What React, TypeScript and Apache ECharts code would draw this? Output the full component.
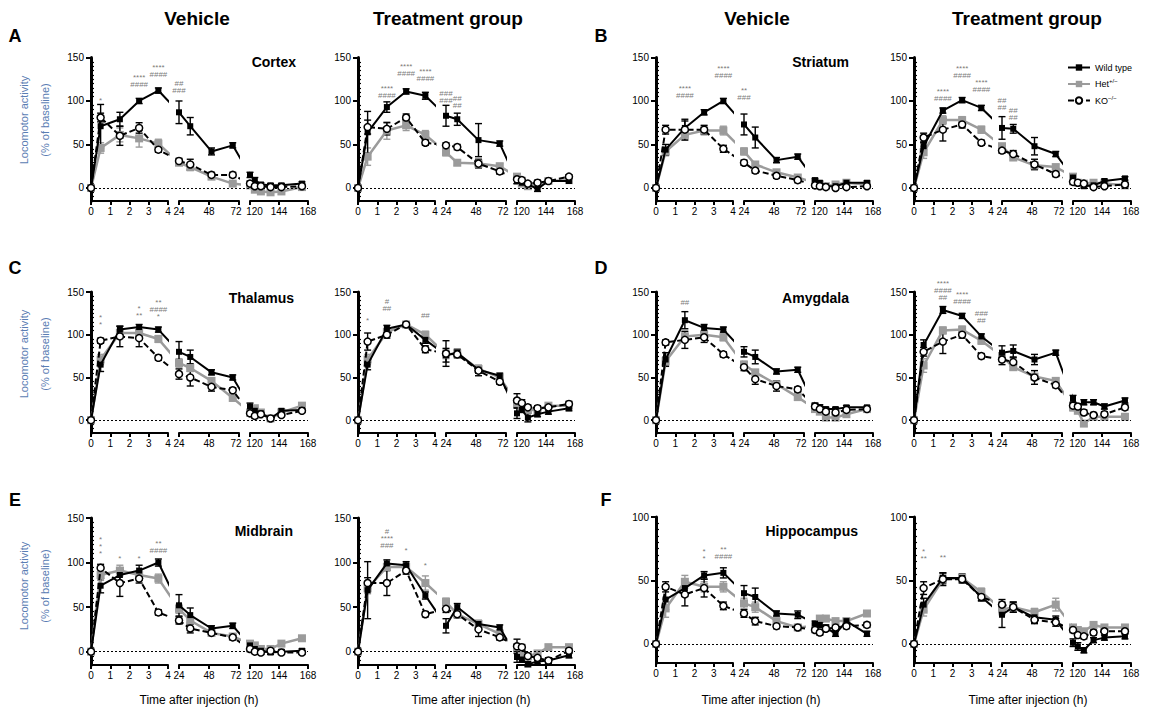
import React, { useEffect, useRef } from "react";
import * as echarts from "echarts";

// ---------- time points (h) and axis ticks ----------
const T_SEG1 = [0, 0.5, 1.5, 2.5, 3.5];
const T_SEG2 = [24, 33, 50, 67];
const T_SEG3 = [120, 124, 129, 137, 146, 163];
const X_TICKS_1 = [0, 1, 2, 3, 4];
const X_TICKS_2 = [24, 48, 72];
const X_TICKS_3 = [120, 144, 168];
const Y_TICKS_150 = [0, 50, 100, 150];
const Y_TICKS_100 = [0, 50, 100];
const Y_MIN = -15;

const NAME_WT = "Wild type";
const NAME_HET = "Het+/−";
const NAME_KO = "KO−/−";

// ---------- data (mean, SEM) ----------
const A1_WT = [0, 71, 79, 100, 112, 87, 71, 42, 49, 15, 9, 4, 3, 3, 5];
const A1_HET = [0, 46, 61, 57, 51, 29, 24, 13, 5, 3, -2, -4, -5, -4, 1];
const A1_KO = [0, 81, 60, 69, 44, 31, 27, 15, 15, 5, 2, 2, 1, 1, 2];
const A1_WT_SEM = [0, 25, 8, 3, 3, 13, 10, 4, 3, 3, 3, 2, 2, 2, 2];
const A1_HET_SEM = [0, 6, 8, 10, 5, 3, 4, 3, 2, 3, 3, 3, 3, 3, 3];
const A1_KO_SEM = [0, 5, 11, 6, 3, 3, 6, 3, 3, 3, 3, 2, 2, 2, 2];

const A2_WT = [0, 64, 93, 111, 106, 83, 79, 55, 51, 8, 6, 4, -1, 8, 8];
const A2_HET = [0, 36, 66, 72, 61, 41, 29, 28, 25, 13, 5, 2, 4, 8, 9];
const A2_KO = [0, 70, 68, 81, 52, 49, 47, 28, 19, 10, 9, 5, 6, 8, 13];
const A2_WT_SEM = [0, 24, 6, 3, 4, 12, 7, 19, 3, 3, 3, 2, 3, 2, 2];
const A2_HET_SEM = [0, 10, 10, 6, 5, 4, 3, 3, 3, 3, 3, 2, 2, 2, 2];
const A2_KO_SEM = [0, 8, 7, 4, 3, 3, 3, 5, 3, 5, 3, 2, 3, 2, 2];

const B1_WT = [0, 44, 69, 87, 100, 73, 58, 32, 36, 9, 6, 2, 2, 6, 6];
const B1_HET = [0, 42, 61, 66, 66, 42, 27, 18, 12, 6, 3, 2, 4, 6, 4];
const B1_KO = [0, 67, 67, 67, 45, 29, 20, 14, 9, 3, 2, 1, 0, 1, 2];
const B1_WT_SEM = [0, 6, 8, 3, 3, 12, 12, 3, 3, 2, 2, 2, 2, 2, 2];
const B1_HET_SEM = [0, 5, 5, 5, 5, 4, 3, 3, 3, 2, 2, 2, 2, 2, 2];
const B1_KO_SEM = [0, 5, 12, 5, 4, 3, 3, 3, 3, 2, 2, 2, 2, 2, 2];

const B2_WT = [0, 48, 89, 101, 92, 69, 68, 48, 39, 12, 6, 2, 3, 8, 11];
const B2_HET = [0, 41, 78, 78, 67, 48, 35, 26, 24, 13, 6, 5, 6, 5, 3];
const B2_KO = [0, 58, 67, 73, 52, 43, 39, 27, 16, 7, 6, 5, 1, 2, 4];
const B2_WT_SEM = [0, 4, 3, 3, 3, 13, 5, 10, 3, 3, 2, 2, 2, 2, 2];
const B2_HET_SEM = [0, 7, 5, 4, 4, 3, 3, 3, 3, 3, 2, 2, 2, 2, 2];
const B2_KO_SEM = [0, 5, 13, 4, 3, 3, 4, 6, 3, 3, 2, 2, 2, 2, 2];

const C1_WT = [0, 65, 106, 109, 106, 80, 74, 56, 50, 16, 11, 8, 2, 11, 12];
const C1_HET = [0, 71, 102, 102, 95, 67, 61, 46, 26, 9, 14, 9, 2, 9, 17];
const C1_KO = [0, 93, 98, 96, 73, 54, 50, 39, 35, 8, 5, 7, 2, 6, 11];
const C1_WT_SEM = [0, 8, 4, 3, 3, 12, 8, 3, 3, 4, 3, 2, 2, 2, 2];
const C1_HET_SEM = [0, 6, 4, 4, 4, 5, 4, 3, 3, 3, 2, 2, 2, 2, 2];
const C1_KO_SEM = [0, 3, 12, 10, 3, 6, 10, 5, 3, 3, 3, 2, 2, 2, 2];

const C2_WT = [0, 65, 107, 112, 94, 76, 79, 59, 52, 8, 12, 3, 7, 10, 14];
const C2_HET = [0, 71, 103, 112, 100, 77, 78, 60, 50, 20, 16, 12, 12, 17, 17];
const C2_KO = [0, 92, 100, 112, 83, 78, 77, 58, 45, 23, 20, 15, 14, 15, 19];
const C2_WT_SEM = [0, 6, 4, 3, 4, 8, 4, 4, 3, 6, 3, 5, 3, 3, 3];
const C2_HET_SEM = [0, 6, 4, 3, 4, 5, 4, 4, 3, 4, 3, 3, 3, 3, 3];
const C2_KO_SEM = [0, 10, 4, 3, 4, 15, 4, 6, 3, 8, 4, 3, 3, 3, 3];

const D1_WT = [0, 71, 117, 108, 106, 80, 74, 57, 59, 17, 15, 13, 13, 15, 15];
const D1_HET = [0, 69, 98, 100, 97, 65, 56, 42, 27, 13, 10, 3, 3, 7, 13];
const D1_KO = [0, 91, 94, 97, 77, 62, 48, 40, 36, 16, 13, 10, 9, 12, 13];
const D1_WT_SEM = [0, 8, 10, 4, 3, 6, 8, 3, 3, 3, 3, 2, 2, 2, 2];
const D1_HET_SEM = [0, 5, 4, 4, 4, 4, 3, 3, 3, 2, 2, 2, 2, 2, 2];
const D1_KO_SEM = [0, 3, 10, 6, 3, 4, 6, 6, 3, 3, 3, 2, 2, 2, 2];

const D2_WT = [0, 88, 129, 122, 98, 79, 81, 71, 79, 25, 16, 21, 21, 16, 23];
const D2_HET = [0, 64, 105, 106, 93, 75, 62, 51, 46, 15, 11, -4, 4, 4, 4];
const D2_KO = [0, 80, 92, 100, 75, 71, 68, 50, 41, 17, 16, 9, 6, 7, 15];
const D2_WT_SEM = [0, 6, 4, 3, 3, 8, 7, 6, 3, 4, 3, 3, 3, 3, 3];
const D2_HET_SEM = [0, 8, 4, 4, 4, 4, 3, 3, 3, 4, 3, 3, 3, 3, 3];
const D2_KO_SEM = [0, 5, 14, 4, 3, 6, 5, 8, 3, 3, 3, 3, 3, 3, 3];

const E1_WT = [0, 74, 86, 91, 100, 52, 41, 26, 29, 7, 3, 1, -1, 0, 1];
const E1_HET = [0, 86, 91, 86, 82, 48, 35, 21, 17, 9, 7, 3, 3, 9, 15];
const E1_KO = [0, 94, 77, 82, 44, 35, 26, 21, 16, 3, 0, -1, 1, -1, -1];
const E1_WT_SEM = [0, 8, 8, 6, 4, 12, 8, 3, 3, 3, 3, 2, 2, 2, 2];
const E1_HET_SEM = [0, 6, 6, 5, 5, 5, 4, 3, 3, 3, 2, 2, 2, 2, 2];
const E1_KO_SEM = [0, 4, 15, 5, 3, 4, 5, 3, 3, 3, 2, 2, 2, 2, 2];

const E2_WT = [0, 69, 99, 97, 63, 29, 50, 31, 27, -6, -9, -14, -11, -10, -4];
const E2_HET = [0, 71, 95, 95, 77, 56, 42, 31, 20, 5, -1, -5, -2, 5, 5];
const E2_KO = [0, 77, 77, 91, 42, 48, 42, 25, 16, 6, 5, -5, -7, -10, 1];
const E2_WT_SEM = [0, 32, 4, 4, 4, 8, 4, 4, 3, 6, 3, 3, 3, 3, 3];
const E2_HET_SEM = [0, 6, 4, 4, 8, 4, 3, 3, 3, 3, 3, 3, 3, 3, 3];
const E2_KO_SEM = [0, 6, 14, 4, 3, 4, 4, 8, 3, 8, 3, 3, 3, 3, 3];

const F1_WT = [0, 35, 44, 54, 56, 40, 37, 24, 23, 16, 15, 13, 8, 18, 8];
const F1_HET = [0, 28, 49, 45, 45, 32, 29, 18, 13, 14, 20, 20, 18, 18, 24];
const F1_KO = [0, 45, 39, 44, 30, 24, 18, 14, 13, 11, 9, 12, 13, 14, 15];
const F1_WT_SEM = [0, 8, 4, 3, 4, 6, 7, 2, 3, 2, 2, 2, 2, 2, 2];
const F1_HET_SEM = [0, 7, 5, 4, 4, 4, 4, 2, 2, 2, 2, 2, 2, 2, 2];
const F1_KO_SEM = [0, 4, 9, 7, 3, 3, 3, 2, 2, 2, 2, 2, 2, 2, 2];

const F2_WT = [0, 31, 52, 52, 37, 23, 29, 21, 19, 1, -2, -5, 3, 5, 6];
const F2_HET = [0, 27, 51, 52, 41, 27, 29, 25, 31, 13, 11, 10, 15, 13, 13];
const F2_KO = [0, 44, 51, 51, 37, 31, 29, 19, 17, 11, 7, 6, 9, 10, 10];
const F2_WT_SEM = [0, 5, 4, 3, 3, 10, 4, 4, 3, 3, 3, 2, 2, 2, 2];
const F2_HET_SEM = [0, 5, 4, 3, 3, 4, 3, 3, 5, 2, 2, 2, 2, 2, 2];
const F2_KO_SEM = [0, 5, 5, 3, 3, 4, 4, 3, 3, 2, 2, 2, 2, 2, 2];

// significance annotations: [time, y, text]
const A1_ANN = [[0.5, 100, "*"], [2.5, 123, "****\n####"], [3.5, 134, "****\n####"], [24, 116, "##\n###"]];
const A2_ANN = [[1.5, 110, "****\n####"], [2.5, 136, "****\n####"], [3.5, 130, "****\n####"], [24, 105, "###\n###"], [33, 99, "##\n##"]];
const B1_ANN = [[1.5, 110, "****\n####"], [3.5, 133, "****\n####"], [24, 108, "**\n###"]];
const B2_ANN = [[1.5, 107, "****\n####"], [2.5, 133, "****\n####"], [3.5, 117, "****\n####"], [24, 96, "##\n##"], [33, 85, "##\n##"]];
const C1_ANN = [[0.5, 116, "*\n*"], [2.5, 127, "*\n**"], [3.5, 130, "**\n####\n*"]];
const C2_ANN = [[0.5, 117, "*"], [1.5, 135, "#\n##"], [3.5, 122, "##"]];
const D1_ANN = [[1.5, 138, "##"]];
const D2_ANN = [[1.5, 152, "****\n####\n##"], [2.5, 143, "****\n####"], [3.5, 121, "###\n##"]];
const E1_ANN = [[0.5, 118, "*\n*\n*"], [1.5, 104, "*"], [2.5, 104, "*"], [3.5, 118, "**\n####"]];
const E2_ANN = [[1.5, 127, "#\n****\n###"], [2.5, 114, "*"], [3.5, 97, "*"]];
const F1_ANN = [[2.5, 70, "*\n*"], [3.5, 72, "**\n####"]];
const F2_ANN = [[0.5, 70, "*\n**"], [1.5, 68, "**"]];

// ---------- texts ----------
const COLUMN_TITLES = ["Vehicle", "Treatment group", "Vehicle", "Treatment group"];
const PANEL_LETTERS = ["A", "B", "C", "D", "E", "F"];
const REGION_NAMES = ["Cortex", "Striatum", "Thalamus", "Amygdala", "Midbrain", "Hippocampus"];
const Y_TITLE = "Locomotor activity\n(% of baseline)";
const X_TITLE = "Time after injection (h)";

// ---------- layout (pixels) ----------
const FONT = "Liberation Sans, Arial, sans-serif";
const SEG_PX = [[0, 77], [88, 148], [159, 217]];
const PANEL_W = 217;
const COL_X0 = [91, 358, 656, 914];
const ROW_BOX = [
  { top: 57.5, bottom: 201 },
  { top: 292, bottom: 433 },
  { top: 518, bottom: 665 },
];
const F_BOX = { top: 517, bottom: 663 };

const SEG_TICKS = [X_TICKS_1, X_TICKS_2, X_TICKS_3];
const TIMES = [...T_SEG1, ...T_SEG2, ...T_SEG3];

function toDisp(t: number): number {
  for (let s = 0; s < 3; s++) {
    const r = SEG_TICKS[s];
    const lo = r[0], hi = r[r.length - 1];
    if (t >= lo && t <= hi) {
      return SEG_PX[s][0] + ((t - lo) / (hi - lo)) * (SEG_PX[s][1] - SEG_PX[s][0]);
    }
  }
  return NaN;
}
function segOf(t: number): number {
  for (let s = 0; s < 3; s++) {
    const r = SEG_TICKS[s];
    if (t >= r[0] && t <= r[r.length - 1]) return s;
  }
  return -1;
}

const PANELS = [
  { col: 0, row: 0, ymax: 150, wt: A1_WT, het: A1_HET, ko: A1_KO, wtE: A1_WT_SEM, hetE: A1_HET_SEM, koE: A1_KO_SEM, ann: A1_ANN },
  { col: 1, row: 0, ymax: 150, wt: A2_WT, het: A2_HET, ko: A2_KO, wtE: A2_WT_SEM, hetE: A2_HET_SEM, koE: A2_KO_SEM, ann: A2_ANN },
  { col: 2, row: 0, ymax: 150, wt: B1_WT, het: B1_HET, ko: B1_KO, wtE: B1_WT_SEM, hetE: B1_HET_SEM, koE: B1_KO_SEM, ann: B1_ANN },
  { col: 3, row: 0, ymax: 150, wt: B2_WT, het: B2_HET, ko: B2_KO, wtE: B2_WT_SEM, hetE: B2_HET_SEM, koE: B2_KO_SEM, ann: B2_ANN },
  { col: 0, row: 1, ymax: 150, wt: C1_WT, het: C1_HET, ko: C1_KO, wtE: C1_WT_SEM, hetE: C1_HET_SEM, koE: C1_KO_SEM, ann: C1_ANN },
  { col: 1, row: 1, ymax: 150, wt: C2_WT, het: C2_HET, ko: C2_KO, wtE: C2_WT_SEM, hetE: C2_HET_SEM, koE: C2_KO_SEM, ann: C2_ANN },
  { col: 2, row: 1, ymax: 150, wt: D1_WT, het: D1_HET, ko: D1_KO, wtE: D1_WT_SEM, hetE: D1_HET_SEM, koE: D1_KO_SEM, ann: D1_ANN },
  { col: 3, row: 1, ymax: 150, wt: D2_WT, het: D2_HET, ko: D2_KO, wtE: D2_WT_SEM, hetE: D2_HET_SEM, koE: D2_KO_SEM, ann: D2_ANN },
  { col: 0, row: 2, ymax: 150, wt: E1_WT, het: E1_HET, ko: E1_KO, wtE: E1_WT_SEM, hetE: E1_HET_SEM, koE: E1_KO_SEM, ann: E1_ANN },
  { col: 1, row: 2, ymax: 150, wt: E2_WT, het: E2_HET, ko: E2_KO, wtE: E2_WT_SEM, hetE: E2_HET_SEM, koE: E2_KO_SEM, ann: E2_ANN },
  { col: 2, row: 2, ymax: 100, wt: F1_WT, het: F1_HET, ko: F1_KO, wtE: F1_WT_SEM, hetE: F1_HET_SEM, koE: F1_KO_SEM, ann: F1_ANN },
  { col: 3, row: 2, ymax: 100, wt: F2_WT, het: F2_HET, ko: F2_KO, wtE: F2_WT_SEM, hetE: F2_HET_SEM, koE: F2_KO_SEM, ann: F2_ANN },
];

const GROUPS = [
  { key: "het", eKey: "hetE", name: NAME_HET, color: "#9b9b9b", symbol: "rect", size: 8, fill: "#9b9b9b", border: "#9b9b9b", width: 2.5, dash: "solid" as any, z: 3 },
  { key: "wt", eKey: "wtE", name: NAME_WT, color: "#000", symbol: "rect", size: 6, fill: "#000", border: "#000", width: 2, dash: "solid" as any, z: 4 },
  { key: "ko", eKey: "koE", name: NAME_KO, color: "#000", symbol: "circle", size: 7, fill: "#fff", border: "#000", width: 2, dash: [6, 3] as any, z: 5 },
];

function errRender(color: string) {
  return (params: any, api: any) => {
    const x = api.value(0), y = api.value(1), e = api.value(2);
    if (!e) return { type: "group", children: [] };
    const p1 = api.coord([x, y + e]);
    const p2 = api.coord([x, y - e]);
    const style = { stroke: color, lineWidth: 1.4 };
    const w = 3.5;
    return {
      type: "group",
      children: [
        { type: "line", shape: { x1: p1[0], y1: p1[1], x2: p2[0], y2: p2[1] }, style },
        { type: "line", shape: { x1: p1[0] - w, y1: p1[1], x2: p1[0] + w, y2: p1[1] }, style },
        { type: "line", shape: { x1: p2[0] - w, y1: p2[1], x2: p2[0] + w, y2: p2[1] }, style },
      ],
    };
  };
}

function buildOption() {
  const grid: any[] = [];
  const xAxis: any[] = [];
  const yAxis: any[] = [];
  const series: any[] = [];

  PANELS.forEach((p: any) => {
    const x0 = COL_X0[p.col];
    const box = p.ymax === 100 ? F_BOX : ROW_BOX[p.row];
    const top = box.top;
    const h = box.bottom - box.top;
    const yTicks = p.ymax === 100 ? Y_TICKS_100 : Y_TICKS_150;
    const minor: number[] = [];
    for (let v = -10; v < p.ymax; v += 5) if (v % 50 !== 0) minor.push(v);

    // overlay grid (zero line + annotations)
    const gO = grid.length;
    grid.push({ left: x0, top, width: PANEL_W, height: h });
    const xO = xAxis.length;
    xAxis.push({ gridIndex: gO, type: "value", min: 0, max: PANEL_W, show: false });
    const yO = yAxis.length;
    yAxis.push({ gridIndex: gO, type: "value", min: Y_MIN, max: p.ymax, show: false });
    series.push({
      type: "scatter",
      xAxisIndex: xO,
      yAxisIndex: yO,
      silent: true,
      clip: false,
      symbolSize: 0,
      z: 1,
      data: p.ann.map((a: any) => ({ value: [toDisp(a[0]), a[1]], txt: a[2] })),
      label: {
        show: true,
        position: "inside",
        formatter: (q: any) => q.data.txt,
        fontSize: 8,
        lineHeight: 7,
        color: "#555",
        fontFamily: FONT,
      },
      markLine: {
        silent: true,
        symbol: ["none", "none"],
        data: [{ yAxis: 0 }],
        lineStyle: { type: [2, 2], color: "#000", width: 1 },
        label: { show: false },
      },
    });

    for (let s = 0; s < 3; s++) {
      const g = grid.length;
      grid.push({ left: x0 + SEG_PX[s][0], top, width: SEG_PX[s][1] - SEG_PX[s][0], height: h });
      const xi = xAxis.length;
      const ticks = SEG_TICKS[s];
      const tickDisp = ticks.map(toDisp);
      xAxis.push({
        gridIndex: g,
        type: "value",
        min: SEG_PX[s][0],
        max: SEG_PX[s][1],
        axisLine: { show: true, onZero: false, lineStyle: { color: "#000", width: 2 } },
        axisTick: { show: true, customValues: tickDisp, length: 4, lineStyle: { color: "#000", width: 2 } },
        axisLabel: {
          show: true,
          customValues: tickDisp,
          fontSize: 10,
          color: "#000",
          margin: 5,
          fontFamily: FONT,
          rich: {
            r: { fontSize: 10, color: "#000", fontFamily: FONT, padding: [0, 0, 0, 9] },
            l: { fontSize: 10, color: "#000", fontFamily: FONT, padding: [0, 6, 0, 0] },
          },
          formatter: (v: number) => {
            for (let k = 0; k < ticks.length; k++) {
              const t = ticks[k];
              if (Math.abs(toDisp(t) - v) < 0.01) {
                if (s === 2 && k === 0) return "{r|" + t + "}";
                if (s === 1 && k === ticks.length - 1) return "{l|" + t + "}";
                return String(t);
              }
            }
            return "";
          },
        },
        splitLine: { show: false },
      });
      const yi = yAxis.length;
      if (s === 0) {
        yAxis.push({
          gridIndex: g,
          type: "value",
          min: Y_MIN,
          max: p.ymax,
          axisLine: { show: true, onZero: false, lineStyle: { color: "#000", width: 3 } },
          axisTick: { show: true, customValues: yTicks, length: 5, lineStyle: { color: "#000", width: 2 } },
          axisLabel: { show: true, customValues: yTicks, fontSize: 10, color: "#000", margin: 7, fontFamily: FONT },
          splitLine: { show: false },
        });
        yAxis.push({
          gridIndex: g,
          type: "value",
          min: Y_MIN,
          max: p.ymax,
          axisLine: { show: false },
          axisTick: { show: true, customValues: minor, length: 3, lineStyle: { color: "#000", width: 1.2 } },
          axisLabel: { show: false },
          splitLine: { show: false },
        });
      } else {
        yAxis.push({ gridIndex: g, type: "value", min: Y_MIN, max: p.ymax, show: false });
      }

      GROUPS.forEach((gr) => {
        const vals: number[] = p[gr.key];
        const errs: number[] = p[gr.eKey];
        series.push({
          type: "line",
          name: gr.name,
          xAxisIndex: xi,
          yAxisIndex: yi,
          clip: true,
          silent: true,
          z: gr.z,
          symbol: gr.symbol,
          symbolSize: gr.size,
          showSymbol: true,
          itemStyle: { color: gr.fill, borderColor: gr.border, borderWidth: gr.symbol === "circle" ? 1.5 : 0 },
          lineStyle: { color: gr.color, width: gr.width, type: gr.dash },
          emphasis: { disabled: true },
          data: TIMES.map((t, i) => [toDisp(t), vals[i]]),
        });
        series.push({
          type: "custom",
          xAxisIndex: xi,
          yAxisIndex: yi,
          silent: true,
          z: 2,
          renderItem: errRender(gr.color),
          data: TIMES.map((t, i) => [toDisp(t), vals[i], errs[i], segOf(t)]).filter((d) => d[3] === s),
        });
      });
    }
  });

  const graphic: any[] = [];
  const colCenters = [197, 448, 757, 1027];
  COLUMN_TITLES.forEach((t, i) =>
    graphic.push({
      type: "text",
      x: colCenters[i],
      y: 18,
      style: { text: t, fontSize: 19, fontWeight: "bold", fontFamily: FONT, fill: "#000", textAlign: "center", textVerticalAlign: "middle" },
    })
  );
  const letterPos = [[15, 36], [601, 36], [15, 268], [601, 268], [15, 500], [606, 500]];
  PANEL_LETTERS.forEach((t, i) =>
    graphic.push({
      type: "text",
      x: letterPos[i][0],
      y: letterPos[i][1],
      style: { text: t, fontSize: 18, fontWeight: "bold", fontFamily: FONT, fill: "#000", textAlign: "center", textVerticalAlign: "middle" },
    })
  );
  const regionPos = [[296, 62], [849, 62], [294, 298], [849, 298], [293, 531], [858, 531]];
  REGION_NAMES.forEach((t, i) =>
    graphic.push({
      type: "text",
      x: regionPos[i][0],
      y: regionPos[i][1],
      style: { text: t, fontSize: 14, fontWeight: "bold", fontFamily: FONT, fill: "#000", textAlign: "right", textVerticalAlign: "middle" },
    })
  );
  [120, 354, 586].forEach((cy) =>
    graphic.push({
      type: "text",
      x: 34,
      y: cy,
      rotation: Math.PI / 2,
      style: { text: Y_TITLE, fontSize: 11, lineHeight: 21, fontFamily: FONT, fill: "#5a7db3", textAlign: "center", textVerticalAlign: "middle" },
    })
  );
  [199, 471, 761, 1028].forEach((cx) =>
    graphic.push({
      type: "text",
      x: cx,
      y: 700,
      style: { text: X_TITLE, fontSize: 12, fontFamily: FONT, fill: "#000", textAlign: "center", textVerticalAlign: "middle" },
    })
  );

  return {
    animation: false,
    backgroundColor: "#fff",
    textStyle: { fontFamily: FONT },
    grid,
    xAxis,
    yAxis,
    series,
    graphic,
    legend: {
      data: [NAME_WT, NAME_HET, NAME_KO],
      left: 1062,
      top: 58,
      orient: "vertical",
      itemWidth: 22,
      itemHeight: 8,
      itemGap: 6,
      selectedMode: false,
      textStyle: {
        fontSize: 9,
        color: "#000",
        fontFamily: FONT,
        rich: {
          n: { fontSize: 9, color: "#000", fontFamily: FONT },
          s: { fontSize: 6, color: "#000", fontFamily: FONT, verticalAlign: "top", padding: [0, 0, 6, 0] },
        },
      },
      formatter: (name: string) => {
        if (name === NAME_HET) return "{n|Het}{s|+/−}";
        if (name === NAME_KO) return "{n|KO}{s|−/−}";
        return "{n|" + name + "}";
      },
    },
  };
}

export default function App() {
  const ref = useRef<HTMLDivElement>(null);
  useEffect(() => {
    document.body.style.margin = "0";
    const chart = echarts.init(ref.current as HTMLDivElement, null, { renderer: "svg" });
    chart.setOption(buildOption() as any);
    return () => chart.dispose();
  }, []);
  return <div ref={ref} style={{ width: 1152, height: 711, background: "#fff" }} />;
}
